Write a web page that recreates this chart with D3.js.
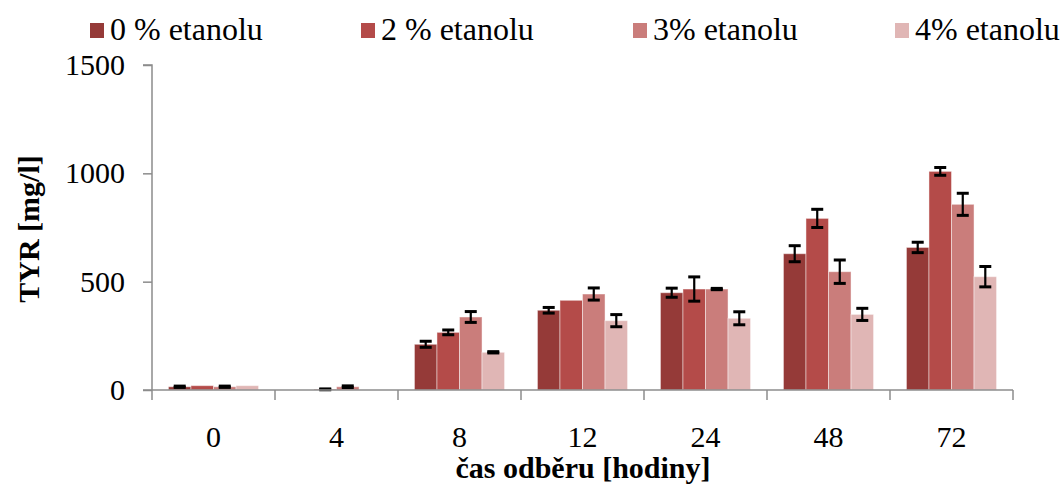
<!DOCTYPE html>
<html>
<head>
<meta charset="utf-8">
<script src="https://cdn.jsdelivr.net/npm/d3@7"></script>
<style>
  body { margin: 0; background: #fff; }
  svg text { font-family: "Liberation Serif", "Times New Roman", Times, "DejaVu Serif", serif !important; }
</style>
</head>
<body>
<svg id="chart" width="1064" height="486"></svg>
<script>
// hodnoty odhadnute z grafu
var categories = ["0", "4", "8", "12", "24", "48", "72"];
var seriesNames = ["0 % etanolu", "2 % etanolu", "3% etanolu", "4% etanolu"];
var seriesColors = ["#953a38", "#b44b49", "#ca7d7b", "#e0b6b5"];

var values0 = [15, 0, 211, 368, 449, 629, 658];
var values2 = [20, 3, 266, 414, 466, 792, 1009];
var values3 = [15, 15, 337, 443, 466, 546, 857];
var values4 = [20, 0, 174, 320, 331, 349, 523];

var err0 = [3, 0, 14, 13, 21, 37, 24];
var err2 = [0, 2, 11, 0, 56, 42, 18];
var err3 = [3, 4, 25, 28, 3, 54, 51];
var err4 = [0, 0, 3, 28, 30, 28, 47];

var yTicks = [0, 500, 1000, 1500];

var allValues = [values0, values2, values3, values4];
var allErrs = [err0, err2, err3, err4];

var svg = d3.select("#chart");

var x0 = d3.scaleBand()
    .domain(categories)
    .range([152, 1013])
    .paddingInner(0)
    .paddingOuter(0);

var x1 = d3.scaleBand()
    .domain(d3.range(seriesNames.length))
    .range([0, x0.bandwidth()])
    .paddingInner(0)
    .paddingOuter(0.73);

var y = d3.scaleLinear()
    .domain([0, 1500])
    .range([390, 65]);

var axisColor = "#8c8c8c";

// bars
seriesNames.forEach(function (name, s) {
    svg.append("g")
        .selectAll("rect")
        .data(categories)
        .enter()
        .append("rect")
        .attr("x", function (c) { return x0(c) + x1(s); })
        .attr("y", function (c, i) { return y(allValues[s][i]); })
        .attr("width", x1.bandwidth())
        .attr("height", function (c, i) { return y(0) - y(allValues[s][i]); })
        .attr("fill", seriesColors[s])
        .attr("stroke", "rgba(255,255,255,0.45)")
        .attr("stroke-width", 1);
});

// error bars
seriesNames.forEach(function (name, s) {
    var g = svg.append("g")
        .attr("stroke", "#000")
        .attr("stroke-width", 2.2);
    categories.forEach(function (c, i) {
        var e = allErrs[s][i];
        if (!e) return;
        var v = allValues[s][i];
        var cx = x0(c) + x1(s) + x1.bandwidth() / 2;
        var capW = 6;
        g.append("line")
            .attr("x1", cx).attr("x2", cx)
            .attr("y1", y(v + e)).attr("y2", y(v - e));
        [v + e, v - e].forEach(function (t) {
            g.append("line")
                .attr("x1", cx - capW).attr("x2", cx + capW)
                .attr("y1", y(t)).attr("y2", y(t))
                .attr("stroke-width", 3);
        });
    });
});

// y axis
var yAxis = d3.axisLeft(y)
    .tickValues(yTicks)
    .tickSize(9)
    .tickPadding(18)
    .tickFormat(d3.format("d"));

var gy = svg.append("g")
    .attr("transform", "translate(152,0)")
    .call(yAxis);
gy.attr("font-family", null);
gy.select(".domain").attr("stroke", axisColor).attr("stroke-width", 1.5)
    .attr("d", "M-9,65H0V390");
gy.selectAll(".tick line").attr("stroke", axisColor).attr("stroke-width", 1.5);
gy.selectAll(".tick text")
    .attr("font-size", 30)
    .attr("fill", "#000");

// x axis
var gx = svg.append("g")
    .attr("transform", "translate(0,390)");
gx.append("line")
    .attr("x1", 143).attr("x2", 1013)
    .attr("y1", 0).attr("y2", 0)
    .attr("stroke", axisColor).attr("stroke-width", 1.5);
gx.selectAll(".xtick")
    .data(categories.concat(["end"]))
    .enter()
    .append("line")
    .attr("x1", function (c) { return c === "end" ? x0.range()[1] : x0(c); })
    .attr("x2", function (c) { return c === "end" ? x0.range()[1] : x0(c); })
    .attr("y1", 0).attr("y2", 10)
    .attr("stroke", axisColor).attr("stroke-width", 1.5);
gx.selectAll(".xlabel")
    .data(categories)
    .enter()
    .append("text")
    .attr("x", function (c) { return x0(c) + x0.bandwidth() / 2; })
    .attr("y", 57)
    .attr("text-anchor", "middle")
    .attr("font-size", 30)
    .text(function (c) { return c; });

// axis titles
svg.append("text")
    .attr("transform", "translate(39,229) rotate(-90)")
    .attr("text-anchor", "middle")
    .attr("font-size", 30)
    .attr("font-weight", "bold")
    .text("TYR [mg/l]");

svg.append("text")
    .attr("x", 583)
    .attr("y", 478)
    .attr("text-anchor", "middle")
    .attr("font-size", 30)
    .attr("font-weight", "bold")
    .text("čas odběru [hodiny]");

// legend
var legendX = [90, 361, 633, 895];
var legend = svg.append("g");
seriesNames.forEach(function (name, s) {
    legend.append("rect")
        .attr("x", legendX[s])
        .attr("y", 23)
        .attr("width", 14)
        .attr("height", 15)
        .attr("fill", seriesColors[s]);
    legend.append("text")
        .attr("x", legendX[s] + 20)
        .attr("y", 40)
        .attr("font-size", 32)
        .text(name);
});
</script>
</body>
</html>
